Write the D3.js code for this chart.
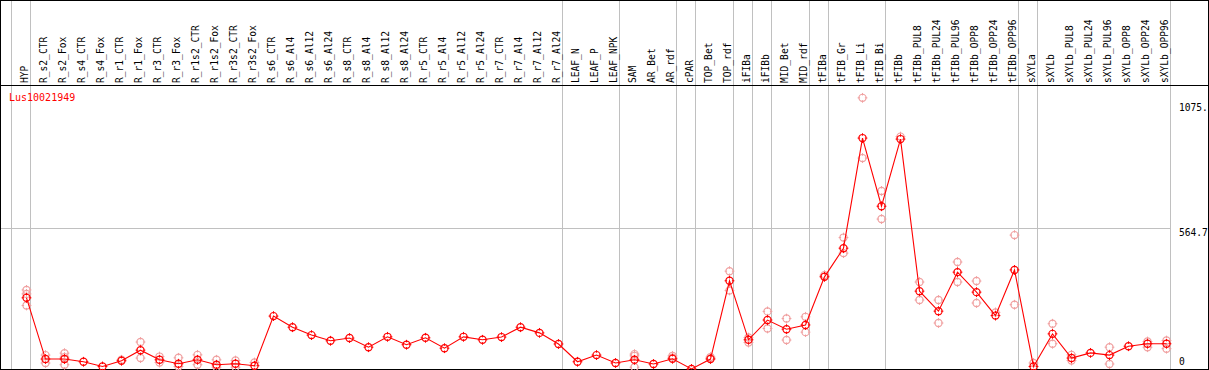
<!DOCTYPE html>
<html>
<head>
<meta charset="utf-8">
<script src="https://cdn.jsdelivr.net/npm/d3@7"></script>
<style>
  html, body { margin: 0; padding: 0; background: #fff; }
  svg { display: block; }
  text { font-family: "DejaVu Sans Mono", monospace; }
</style>
</head>
<body>
<script>
const categories = ["HYP","R_s2_CTR","R_s2_Fox","R_s4_CTR","R_s4_Fox","R_r1_CTR","R_r1_Fox","R_r3_CTR","R_r3_Fox","R_r1s2_CTR","R_r1s2_Fox","R_r3s2_CTR","R_r3s2_Fox","R_s6_CTR","R_s6_Al4","R_s6_Al12","R_s6_Al24","R_s8_CTR","R_s8_Al4","R_s8_Al12","R_s8_Al24","R_r5_CTR","R_r5_Al4","R_r5_Al12","R_r5_Al24","R_r7_CTR","R_r7_Al4","R_r7_Al12","R_r7_Al24","LEAF_N","LEAF_P","LEAF_NPK","SAM","AR_Bet","AR_rdf","cPAR","TOP_Bet","TOP_rdf","iFIBa","iFIBb","MID_Bet","MID_rdf","tFIBa","tFIB_Gr","tFIB_Li","tFIB_Bi","tFIBb","tFIBb_PUL8","tFIBb_PUL24","tFIBb_PUL96","tFIBb_OPP8","tFIBb_OPP24","tFIBb_OPP96","sXYLa","sXYLb","sXYLb_PUL8","sXYLb_PUL24","sXYLb_PUL96","sXYLb_OPP8","sXYLb_OPP24","sXYLb_OPP96"];

const means = [281,33,33,22,3,26,69,30,14,30,10,14,6,207,162,130,107,118,81,123,91,119,77,123,111,122,162,139,94,22,49,17,30,13,34,-7,33,350,111,191,154,171,366,482,928,652,924,308,227,385,304,209,394,3,135,37,58,49,85,95,95];

const replicates = [[313,297,250],[49,17],[57,10,41],[],[],[30],[102,37],[43,19],[38,3],[50,10],[30,0],[27,0],[19],[],[],[],[],[],[],[],[],[],[],[],[],[],[],[],[],[],[],[],[53,0,46],[],[46,38],[],[41,36],[389,311],[120,100],[226,157],[197,110],[204,142],[373,368],[525,462],[1091,847],[714,600],[934],[345,272],[272,179],[426,345],[349,260],[222],[535,253],[17],[176,95],[50,27],[],[81,13],[],[104,81],[108,75]];

const groupEnds = ["HYP","R_r7_Al24","LEAF_NPK","AR_rdf","cPAR","TOP_rdf","iFIBa","iFIBb","MID_rdf","tFIBa","tFIB_Bi","tFIBb_OPP96","sXYLa","sXYLb_OPP96"];

const yTickValues = [1075, 564.7, 0];
const yTickLabels = ["1075.", "564.7", "0"];
const geneName = "Lus10021949";

const W = 1209, H = 370;
const svg = d3.select("body").append("svg").attr("width", W).attr("height", H);

const x = d3.scalePoint().domain(categories).range([26.5, 1166.5]);
const step = x.step();
const y = d3.scaleLinear().domain([0, 1075]).range([367.2, 101.8]);

// vertical grid lines
const gx = [x(categories[0]) - step + 4].concat(groupEnds.map(c => x(c) + 4));
svg.append("g").selectAll("line").data(gx).join("line")
  .attr("x1", d => d).attr("x2", d => d).attr("y1", 0).attr("y2", H)
  .attr("stroke", "#c0c0c0").attr("stroke-width", 1).attr("shape-rendering", "crispEdges");

// horizontal grid line
svg.append("line")
  .attr("x1", 0).attr("x2", x(categories[categories.length-1]) + 4)
  .attr("y1", Math.round(y(564.7)) + 0.5).attr("y2", Math.round(y(564.7)) + 0.5)
  .attr("stroke", "#c0c0c0").attr("stroke-width", 1).attr("shape-rendering", "crispEdges");

// header divider and border
svg.append("line").attr("x1", 0).attr("x2", W).attr("y1", 85.5).attr("y2", 85.5)
  .attr("stroke", "#000").attr("shape-rendering", "crispEdges");
svg.append("rect").attr("x", 0.5).attr("y", 0.5).attr("width", W - 1).attr("height", H - 1.5)
  .attr("fill", "none").attr("stroke", "#000").attr("shape-rendering", "crispEdges");

// category labels
svg.append("g").selectAll("text").data(categories).join("text")
  .attr("transform", d => `translate(${x(d) + 1.8},83) rotate(-90)`)
  .attr("font-size", "9.6px").attr("fill", "#000")
  .text(d => d);

// gene name
svg.append("text").attr("x", 9).attr("y", 100.5).attr("font-size", "10px")
  .attr("fill", "#ff0000").text(geneName);

// y tick labels
const tickDy = [9, 8.2, -2.2];
svg.append("g").selectAll("text").data(yTickValues).join("text")
  .attr("x", 1179).attr("y", (d, i) => y(d) + tickDy[i])
  .attr("font-size", "9.6px").attr("fill", "#000")
  .text((d, i) => yTickLabels[i]);

// marker helper
function marker(g, cx, cy, color) {
  const r = 3.6;
  g.append("circle").attr("cx", cx).attr("cy", cy).attr("r", r)
    .attr("fill", "none").attr("stroke", color).attr("stroke-width", 1.2);
  const t = [[0, -1], [0, 1], [-1, 0], [1, 0]];
  t.forEach(([dx, dy]) => {
    g.append("line")
      .attr("x1", cx + dx * (r - 1.2)).attr("y1", cy + dy * (r - 1.2))
      .attr("x2", cx + dx * (r + 1.3)).attr("y2", cy + dy * (r + 1.3))
      .attr("stroke", color).attr("stroke-width", 1);
  });
}

// replicate markers
const repG = svg.append("g");
categories.forEach((c, i) => {
  replicates[i].forEach(v => marker(repG, x(c), y(v), "#f0a0a0"));
});

// mean line
const line = d3.line().x((d, i) => x(categories[i])).y(d => y(d));
svg.append("path").datum(means).attr("d", line)
  .attr("fill", "none").attr("stroke", "#ff0000").attr("stroke-width", 1.1);

// mean markers
const meanG = svg.append("g");
categories.forEach((c, i) => marker(meanG, x(c), y(means[i]), "#ff0000"));
</script>
</body>
</html>
